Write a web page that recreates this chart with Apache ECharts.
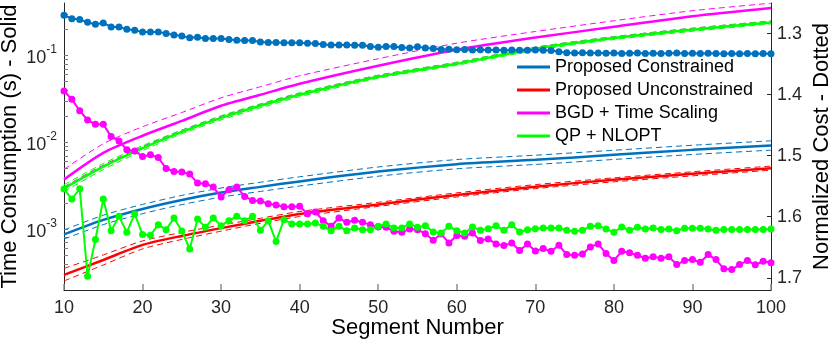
<!DOCTYPE html>
<html>
<head>
<meta charset="utf-8">
<title>Time Consumption / Normalized Cost vs Segment Number</title>
<script src="https://cdn.jsdelivr.net/npm/echarts@6/dist/echarts.min.js"></script>
<style>
  html, body { margin: 0; padding: 0; background: #fff; }
  #chart { width: 831px; height: 343px; }
</style>
</head>
<body>
<div id="chart"></div>
<script>
// segment numbers for the dotted cost curves (every segment 10..100)
const costN = []
for (let n = 10; n <= 100; n++) costN.push(n)

// segment numbers where the solid / dashed time curves were read
const timeN = [10, 15, 20, 25, 30, 35, 40, 50, 60, 70, 80, 90, 100]

// time consumption (s), left log axis
const blueTime = [8.71e-4, 1.28e-3, 1.71e-3, 2.17e-3, 2.64e-3, 3.07e-3, 3.55e-3, 4.60e-3, 5.60e-3, 6.28e-3, 7.17e-3, 8.18e-3, 9.18e-3]
const blueTimeHi = [9.8e-4, 1.45e-3, 1.93e-3, 2.45e-3, 2.98e-3, 3.47e-3, 4.01e-3, 5.2e-3, 6.33e-3, 7.1e-3, 8.1e-3, 9.24e-3, 1.04e-2]
const blueTimeLo = [7.7e-4, 1.13e-3, 1.51e-3, 1.92e-3, 2.34e-3, 2.72e-3, 3.14e-3, 4.07e-3, 4.96e-3, 5.56e-3, 6.35e-3, 7.24e-3, 8.12e-3]

const redTime = [2.98e-4, 4.43e-4, 6.60e-4, 8.38e-4, 1.03e-3, 1.25e-3, 1.50e-3, 1.93e-3, 2.48e-3, 3.09e-3, 3.70e-3, 4.34e-3, 5.04e-3]
const redTimeHi = [3.54e-4, 5.06e-4, 7.34e-4, 9.19e-4, 1.115e-3, 1.336e-3, 1.60e-3, 2.04e-3, 2.62e-3, 3.26e-3, 3.90e-3, 4.58e-3, 5.32e-3]
const redTimeLo = [2.54e-4, 3.88e-4, 5.94e-4, 7.64e-4, 9.51e-4, 1.17e-3, 1.40e-3, 1.83e-3, 2.35e-3, 2.93e-3, 3.51e-3, 4.11e-3, 4.78e-3]

const magentaTime = [3.74e-3, 7.57e-3, 1.19e-2, 1.76e-2, 2.63e-2, 3.52e-2, 4.71e-2, 7.59e-2, 0.116, 0.160, 0.213, 0.282, 0.351]
const magentaTimeHi = [4.88e-3, 9.61e-3, 1.51e-2, 2.2e-2, 3.25e-2, 4.35e-2, 5.82e-2, 9.14e-2, 0.138, 0.188, 0.250, 0.326, 0.398]
const magentaTimeLo = [3.08e-3, 5.47e-3, 8.91e-3, 1.38e-2, 1.99e-2, 2.74e-2, 3.66e-2, 5.9e-2, 8.32e-2, 0.124, 0.164, 0.205, 0.249]

const greenTime = [2.96e-3, 5.26e-3, 8.57e-3, 1.32e-2, 1.91e-2, 2.63e-2, 3.52e-2, 5.67e-2, 8.00e-2, 0.119, 0.158, 0.197, 0.239]
const greenTimeHi = [3.25e-3, 5.70e-3, 9.16e-3, 1.38e-2, 2.02e-2, 2.77e-2, 3.71e-2, 5.9e-2, 8.32e-2, 0.124, 0.164, 0.205, 0.249]
const greenTimeLo = [2.70e-3, 4.86e-3, 8.02e-3, 1.25e-2, 1.81e-2, 2.49e-2, 3.34e-2, 5.45e-2, 7.69e-2, 0.114, 0.152, 0.189, 0.230]

// normalized cost, right axis (inverted), segments 10..100
const blueCost = [
  1.2701, 1.2756, 1.2772, 1.2816, 1.2848, 1.2826, 1.2892, 1.2892, 1.2930, 1.2946,
  1.2973, 1.2973, 1.2973, 1.3000, 1.3022, 1.3039, 1.3071, 1.3060, 1.3082, 1.3082,
  1.3082, 1.3098, 1.3109, 1.3115, 1.3115, 1.3137, 1.3147, 1.3147, 1.3153, 1.3153,
  1.3153, 1.3158, 1.3164, 1.3180, 1.3186, 1.3186, 1.3186, 1.3191, 1.3191, 1.3213,
  1.3224, 1.3213, 1.3213, 1.3229, 1.3235, 1.3218, 1.3235, 1.3245, 1.3262, 1.3258,
  1.3265, 1.3262, 1.3268, 1.3265, 1.3270, 1.3268, 1.3272, 1.3270, 1.3275, 1.3272,
  1.3270, 1.3275, 1.3278, 1.3300, 1.3315, 1.3318, 1.3315, 1.3320, 1.3318, 1.3322,
  1.3320, 1.3325, 1.3322, 1.3320, 1.3325, 1.3322, 1.3326, 1.3324, 1.3320, 1.3325,
  1.3322, 1.3326, 1.3324, 1.3328, 1.3330, 1.3327, 1.3330, 1.3328, 1.3330, 1.3329,
  1.3332
]
const magentaCost = [
  1.3942, 1.4078, 1.4264, 1.4416, 1.4486, 1.4486, 1.4688, 1.4758, 1.4905, 1.4922,
  1.5014, 1.4987, 1.5031, 1.5210, 1.5259, 1.5269, 1.5302, 1.5449, 1.5460, 1.5514,
  1.5678, 1.5558, 1.5514, 1.5667, 1.5733, 1.5743, 1.5787, 1.5808, 1.5836, 1.5836,
  1.5830, 1.5950, 1.5923, 1.6064, 1.6157, 1.6021, 1.6092, 1.6059, 1.6092, 1.6130,
  1.6168, 1.6173, 1.6239, 1.6255, 1.6200, 1.6212, 1.6277, 1.6386, 1.6282, 1.6429,
  1.6309, 1.6320, 1.6265, 1.6391, 1.6363, 1.6445, 1.6473, 1.6429, 1.6554, 1.6445,
  1.6560, 1.6522, 1.6565, 1.6467, 1.6620, 1.6631, 1.6609, 1.6494, 1.6445, 1.6603,
  1.6718, 1.6565, 1.6592, 1.6631, 1.6680, 1.6657, 1.6680, 1.6657, 1.6783, 1.6718,
  1.6701, 1.6745, 1.6620, 1.6701, 1.6853, 1.6865, 1.6783, 1.6718, 1.6788, 1.6729,
  1.6755
]
const greenCost = [
  1.5547, 1.5710, 1.5542, 1.6974, 1.6375, 1.5710, 1.6228, 1.5994, 1.6255, 1.5955,
  1.6293, 1.6304, 1.6130, 1.6212, 1.6020, 1.6233, 1.6527, 1.6037, 1.6174, 1.6020,
  1.6146, 1.6064, 1.5994, 1.6064, 1.5994, 1.6223, 1.6069, 1.6407, 1.6048, 1.6118,
  1.6120, 1.6118, 1.6102, 1.6157, 1.6228, 1.6157, 1.6228, 1.6184, 1.6212, 1.6212,
  1.6157, 1.6118, 1.6184, 1.6184, 1.6118, 1.6173, 1.6146, 1.6250, 1.6266, 1.6157,
  1.6228, 1.6266, 1.6168, 1.6222, 1.6195, 1.6146, 1.6222, 1.6130, 1.6250, 1.6212,
  1.6195, 1.6184, 1.6184, 1.6184, 1.6222, 1.6239, 1.6222, 1.6157, 1.6146, 1.6200,
  1.6255, 1.6168, 1.6222, 1.6173, 1.6200, 1.6184, 1.6211, 1.6200, 1.6228, 1.6190,
  1.6190, 1.6190, 1.6200, 1.6222, 1.6211, 1.6211, 1.6211, 1.6211, 1.6211, 1.6211,
  1.6200
]

// left axis tick marks (decades + 2..9 minor ticks)
const logTicks = [
  2e-4, 3e-4, 4e-4, 5e-4, 6e-4, 7e-4, 8e-4, 9e-4,
  1e-3, 2e-3, 3e-3, 4e-3, 5e-3, 6e-3, 7e-3, 8e-3, 9e-3,
  1e-2, 2e-2, 3e-2, 4e-2, 5e-2, 6e-2, 7e-2, 8e-2, 9e-2,
  1e-1, 2e-1, 3e-1, 4e-1
]

const BLUE = '#0072BD'
const RED = '#FF0000'
const MAGENTA = '#FF00FF'
const GREEN = '#00FF00'
const FONT = 'Liberation Sans, Arial, Helvetica, sans-serif'
const AXIS = '#262626'

const pairs = (xs, ys) => xs.map((x, i) => [x, ys[i]])

const solid = (name, color, ys) => ({
  name,
  type: 'line',
  yAxisIndex: 0,
  data: pairs(timeN, ys),
  symbol: 'none',
  smooth: 0.25,
  lineStyle: { color, width: 2.5 },
  itemStyle: { color },
  z: 4
})

const dashed = (name, color, ys) => ({
  name,
  type: 'line',
  yAxisIndex: 0,
  data: pairs(timeN, ys),
  symbol: 'none',
  smooth: 0.25,
  lineStyle: { color, width: 1, type: [6, 4] },
  itemStyle: { color },
  z: 3
})

const dotted = (name, color, ys) => ({
  name,
  type: 'line',
  yAxisIndex: 1,
  data: pairs(costN, ys),
  symbol: 'circle',
  symbolSize: 7,
  showSymbol: true,
  lineStyle: { color, width: 2 },
  itemStyle: { color },
  z: 5
})

const chart = echarts.init(document.getElementById('chart'))

chart.setOption({
  animation: false,
  backgroundColor: '#fff',
  textStyle: { fontFamily: FONT },
  grid: { left: 64, right: 60, top: 3, bottom: 53, outerBoundsMode: 'none', containLabel: false },
  legend: {
    data: ['Proposed Constrained', 'Proposed Unconstrained', 'BGD + Time Scaling', 'QP + NLOPT'],
    orient: 'vertical',
    left: 517,
    top: 58,
    padding: 0,
    itemGap: 5,
    itemWidth: 33,
    itemHeight: 3,
    icon: 'rect',
    backgroundColor: 'transparent',
    textStyle: { fontFamily: FONT, fontSize: 18, color: '#000', lineHeight: 18 }
  },
  xAxis: {
    type: 'value',
    min: 10,
    max: 100,
    interval: 10,
    name: 'Segment Number',
    nameLocation: 'middle',
    nameGap: 27,
    nameMoveOverlap: false,
    nameTextStyle: { fontFamily: FONT, fontSize: 22, color: '#000' },
    axisLine: { show: true, lineStyle: { color: AXIS, width: 1 } },
    axisTick: { show: true, inside: true, length: 6, lineStyle: { color: '#8c8c8c', width: 1.5 } },
    axisLabel: { fontFamily: FONT, fontSize: 18, color: '#262626', margin: 9 },
    splitLine: { show: false }
  },
  yAxis: [
    {
      type: 'log',
      logBase: 10,
      min: 2e-4,
      max: 0.4,
      position: 'left',
      name: 'Time Consumption (s) - Solid',
      nameLocation: 'middle',
      nameRotate: 90,
      nameGap: 43,
      nameMoveOverlap: false,
      nameTextStyle: { fontFamily: FONT, fontSize: 22, color: '#000' },
      axisLine: { show: true, lineStyle: { color: AXIS, width: 1 } },
      axisTick: { show: true, inside: true, length: 4, customValues: logTicks, lineStyle: { color: '#7a7a7a', width: 1 } },
      axisLabel: {
        margin: 7,
        showMinLabel: false,
        showMaxLabel: false,
        formatter: (v) => '{b|10}{e|' + Math.round(Math.log10(v)) + '}',
        rich: {
          b: { fontFamily: FONT, fontSize: 18, color: '#262626', lineHeight: 24, verticalAlign: 'bottom' },
          e: { fontFamily: FONT, fontSize: 12, color: '#262626', lineHeight: 24, verticalAlign: 'top' }
        }
      },
      splitLine: { show: false },
      minorTick: { show: false }
    },
    {
      type: 'value',
      min: 1.25,
      max: 1.72,
      inverse: true,
      position: 'right',
      name: 'Normalized Cost - Dotted',
      nameLocation: 'middle',
      nameRotate: 90,
      nameGap: 40,
      nameMoveOverlap: false,
      nameTextStyle: { fontFamily: FONT, fontSize: 22, color: '#000' },
      axisLine: { show: true, lineStyle: { color: AXIS, width: 1 } },
      axisTick: { show: true, inside: true, length: 4, lineStyle: { color: AXIS, width: 1 } },
      axisLabel: {
        fontFamily: FONT, fontSize: 18, color: '#262626', margin: 6,
        showMinLabel: false, showMaxLabel: false,
        formatter: (v) => v.toFixed(1)
      },
      splitLine: { show: false }
    }
  ],
  series: [
    dashed('Proposed Constrained hi', BLUE, blueTimeHi),
    dashed('Proposed Constrained lo', BLUE, blueTimeLo),
    dashed('Proposed Unconstrained hi', RED, redTimeHi),
    dashed('Proposed Unconstrained lo', RED, redTimeLo),
    dashed('BGD + Time Scaling hi', MAGENTA, magentaTimeHi),
    dashed('BGD + Time Scaling lo', MAGENTA, magentaTimeLo),
    dashed('QP + NLOPT hi', GREEN, greenTimeHi),
    dashed('QP + NLOPT lo', GREEN, greenTimeLo),
    solid('Proposed Constrained', BLUE, blueTime),
    solid('Proposed Unconstrained', RED, redTime),
    solid('BGD + Time Scaling', MAGENTA, magentaTime),
    solid('QP + NLOPT', GREEN, greenTime),
    dotted('Proposed Constrained cost', BLUE, blueCost),
    dotted('BGD + Time Scaling cost', MAGENTA, magentaCost),
    dotted('QP + NLOPT cost', GREEN, greenCost)
  ]
})
</script>
</body>
</html>
